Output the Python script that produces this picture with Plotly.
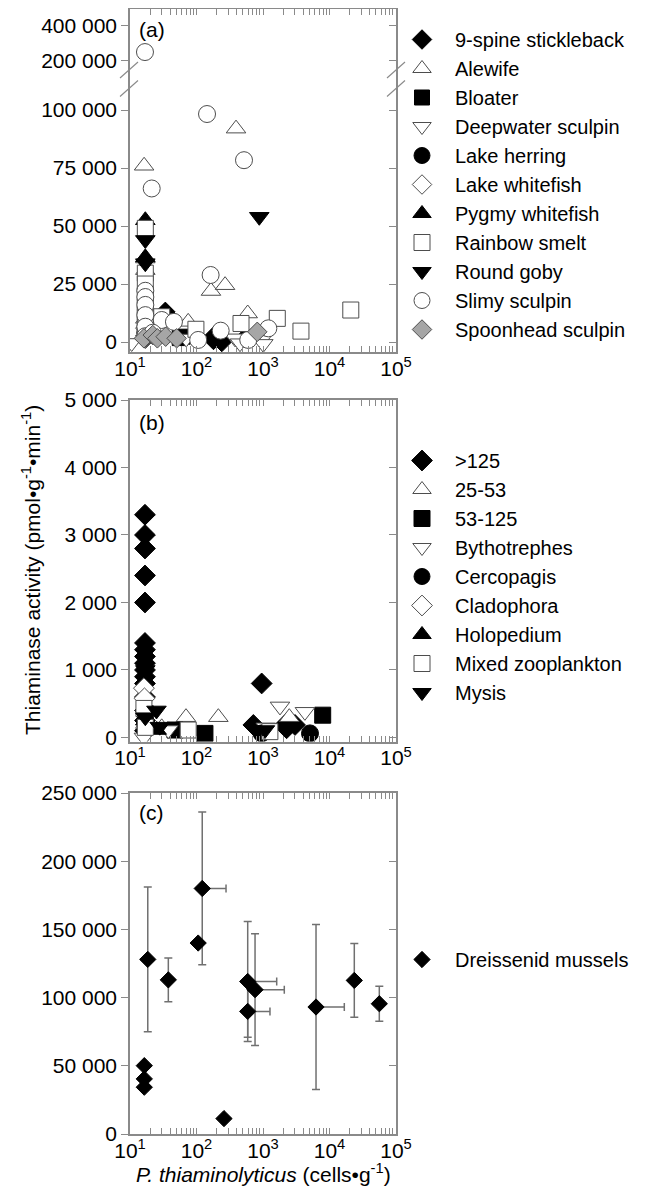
import plotly.graph_objects as go

# ---------------- DATA ----------------
# Panel (a): fish  (x = P. thiaminolyticus cells/g, y = thiaminase activity)
fish_names = ["9-spine stickleback", "Alewife", "Bloater", "Deepwater sculpin", "Lake herring",
              "Lake whitefish", "Pygmy whitefish", "Rainbow smelt", "Round goby", "Slimy sculpin",
              "Spoonhead sculpin"]
a_stickleback_x = [17, 34, 180, 190, 240, 560]
a_stickleback_y = [1500, 13000, 900, 3000, 0, 2300]
a_alewife_x = [16.3, 17, 17, 393, 165, 269, 589, 75, 17]
a_alewife_y = [76000, 36000, 31000, 92000, 22000, 24500, 12300, 8700, 10000]
a_bloater_x = [17, 56, 62]
a_bloater_y = [3000, 1700, 2300]
a_deepwater_x = [10.6, 17, 70, 380, 451, 955, 1010]
a_deepwater_y = [-400, 1000, 1500, 1600, -500, 900, -800]
a_herring_x = [17, 195]
a_herring_y = [4000, 1500]
a_whitefish_x = [17, 25]
a_whitefish_y = [6000, 2500]
a_pygmy_x = [17, 17]
a_pygmy_y = [52500, 36500]
a_smelt_x = [17, 17, 17, 17, 17, 17, 17, 17, 30, 98, 467, 1640, 3720, 20900]
a_smelt_y = [49000, 29700, 25000, 20000, 15000, 12000, 8000, 4000, 10900, 5500, 8000, 10200, 4700, 13800]
a_goby_x = [17, 17, 879]
a_goby_y = [44000, 34000, 54000]
a_slimy_x = [16.8, 21.2, 144, 518, 163, 17, 17, 17, 17, 17, 17, 30, 45.8, 106, 231, 600, 1203, 22]
a_slimy_y = [251000, 66200, 98300, 78400, 28900, 22100, 19400, 16000, 11600, 6600, 2500, 9500, 8700,
             900, 4900, 900, 5900, 4000]
a_spoonhead_x = [16.2, 22, 25.8, 34.4, 50.3, 820]
a_spoonhead_y = [1600, 3000, 1600, 2300, 1600, 4400]

# Panel (b): invertebrates / plankton size fractions
plankton_names = [">125", "25-53", "53-125", "Bythotrephes", "Cercopagis", "Cladophora",
                  "Holopedium", "Mixed zooplankton", "Mysis"]
b_gt125_x = [16.8] * 16 + [955, 716, 2140, 2265, 3030]
b_gt125_y = [3300, 3000, 2800, 2400, 2000, 1400, 1300, 1200, 1100, 1000, 900, 800, 600, 400, 250, 100,
             800, 185, 185, 136, 185]
b_25_53_x = [17, 30, 69.5, 213, 2485]
b_25_53_y = [200, 150, 300, 300, 300]
b_53_125_x = [17, 47.5, 134, 7900]
b_53_125_y = [350, 110, 60, 330]
b_bytho_x = [16.2, 37.7, 1100, 1800, 4270]
b_bytho_y = [0, 110, 150, 460, 380]
b_cerco_x = [17, 955, 5090]
b_cerco_y = [200, 60, 60]
b_clado_x = [16.2, 16.5]
b_clado_y = [730, 580]
b_holo_x = [17, 25.2]
b_holo_y = [250, 110]
b_mixed_x = [16.2, 17, 75, 1270]
b_mixed_y = [430, 150, 110, 86]
b_mysis_x = [17, 17, 25, 28, 1070]
b_mysis_y = [1000, 300, 400, 160, 110]

# Panel (c): Dreissenid mussels with error bars
c_name = "Dreissenid mussels"
c_x = [18.5, 37.7, 106, 122, 259, 589, 589, 759, 6270, 23600, 56100, 16.4, 16.4, 16.4]
c_y = [128000, 113000, 140000, 180000, 11300, 111800, 89900, 105800, 93100, 112600, 95500, 50100, 40400, 34300]
c_yerr = [53000, 16000, None, 56000, None, 44000, 19000, 41000, 60500, 27000, 12800, None, None, None]
c_xerr_plus = [None, None, None, 156, None, 1018, 684, 1331, 10430, None, None, None, None, None]

# Tick labels
x_tickvals = [10, 100, 1000, 10000, 100000]
x_ticktext = ["10<sup>1</sup>", "10<sup>2</sup>", "10<sup>3</sup>", "10<sup>4</sup>", "10<sup>5</sup>"]
a_low_tickvals = [0, 25000, 50000, 75000, 100000]
a_low_ticktext = ["0", "25 000", "50 000", "75 000", "100 000"]
a_up_tickvals = [200000, 400000]
a_up_ticktext = ["200 000", "400 000"]
b_tickvals = [0, 1000, 2000, 3000, 4000, 5000]
b_ticktext = ["0", "1 000", "2 000", "3 000", "4 000", "5 000"]
c_tickvals = [0, 50000, 100000, 150000, 200000, 250000]
c_ticktext = ["0", "50 000", "100 000", "150 000", "200 000", "250 000"]

# ---------------- STYLE ----------------
OFF = 8                      # page body margin
W, H = 653 - OFF, 1192 - OFF  # figure size so that it fits the window
FONT = "Liberation Sans, Arial, sans-serif"
FS = 21
LFS = 20
AXC = "#8a8a8a"
EDGE = "#4d4d4d"


def px_x(p):
    return (p - OFF) / W


def px_y(p):
    return 1 - (p - OFF) / H


def mk(symbol, fill, size, line=None):
    return dict(symbol=symbol, color=fill, size=size,
                line=dict(color=line if line else (fill if fill == "black" else EDGE), width=1))


fish_data = [(a_stickleback_x, a_stickleback_y), (a_alewife_x, a_alewife_y), (a_bloater_x, a_bloater_y),
             (a_deepwater_x, a_deepwater_y), (a_herring_x, a_herring_y), (a_whitefish_x, a_whitefish_y),
             (a_pygmy_x, a_pygmy_y), (a_smelt_x, a_smelt_y), (a_goby_x, a_goby_y), (a_slimy_x, a_slimy_y),
             (a_spoonhead_x, a_spoonhead_y)]
fish_styles = [mk("diamond", "black", 15), mk("triangle-up", "white", 17), mk("square", "black", 15),
               mk("triangle-down", "white", 17), mk("circle", "black", 17), mk("diamond", "white", 15),
               mk("triangle-up", "black", 17), mk("square", "white", 16), mk("triangle-down", "black", 17),
               mk("circle", "white", 17), mk("diamond", "#a6a6a6", 15, EDGE)]

plank_data = [(b_gt125_x, b_gt125_y), (b_25_53_x, b_25_53_y), (b_53_125_x, b_53_125_y),
              (b_bytho_x, b_bytho_y), (b_cerco_x, b_cerco_y), (b_clado_x, b_clado_y),
              (b_holo_x, b_holo_y), (b_mixed_x, b_mixed_y), (b_mysis_x, b_mysis_y)]
plank_styles = [mk("diamond", "black", 16), mk("triangle-up", "white", 17), mk("square", "black", 16),
                mk("triangle-down", "white", 17), mk("circle", "black", 17), mk("diamond", "white", 16),
                mk("triangle-up", "black", 17), mk("square", "white", 16), mk("triangle-down", "black", 17)]

BREAK = 150000

fig = go.Figure()

# Panel (a): lower and upper segments of the broken axis
for name, (xs, ys), st in zip(fish_names, fish_data, fish_styles):
    lo = [(x, y) for x, y in zip(xs, ys) if y < BREAK]
    hi = [(x, y) for x, y in zip(xs, ys) if y >= BREAK]
    fig.add_trace(go.Scatter(x=[p[0] for p in lo], y=[p[1] for p in lo], mode="markers", name=name,
                             marker=st, xaxis="x", yaxis="y", legend="legend", legendgroup=name))
    fig.add_trace(go.Scatter(x=[p[0] for p in hi], y=[p[1] for p in hi], mode="markers", name=name,
                             marker=st, xaxis="x2", yaxis="y2", legend="legend", legendgroup=name,
                             showlegend=False))

# Panel (b)
for name, (xs, ys), st in zip(plankton_names, plank_data, plank_styles):
    fig.add_trace(go.Scatter(x=xs, y=ys, mode="markers", name=name, marker=st,
                             xaxis="x3", yaxis="y3", legend="legend2"))

# Panel (c)
fig.add_trace(go.Scatter(
    x=c_x, y=c_y, mode="markers", name=c_name, marker=mk("diamond", "black", 12.5),
    error_y=dict(type="data", array=c_yerr, symmetric=True, color="#707070", thickness=1.5, width=4),
    error_x=dict(type="data", array=c_xerr_plus, arrayminus=[0 if v is not None else None for v in c_xerr_plus],
                 symmetric=False, color="#707070", thickness=1.5, width=4),
    xaxis="x4", yaxis="y4", legend="legend3"))

# empty helper traces so right-side tick axes are drawn
for ya, xa in [("y5", "x"), ("y6", "x2"), ("y7", "x3"), ("y8", "x4")]:
    fig.add_trace(go.Scatter(x=[], y=[], xaxis=xa, yaxis=ya, showlegend=False, hoverinfo="skip"))

XD = [px_x(130), px_x(396)]
dom_a_up = [px_y(79), px_y(9)]
dom_a_lo = [px_y(352), px_y(79)]
dom_b = [px_y(741.5), px_y(400)]
dom_c = [px_y(1134), px_y(793)]
rng_a_lo = [-4300, 113400]
rng_a_up = [97000, 497000]
rng_b = [-60, 5000]
rng_c = [0, 250000]

minor_vals = [k * 10 ** n for n in range(1, 5) for k in range(2, 10)]


def xax(anchor, labels, side="bottom", mirror=False):
    return dict(type="log", range=[1, 5], domain=XD, anchor=anchor, side=side, automargin=False,
                showline=True, linecolor=AXC, linewidth=1.5, mirror=mirror,
                ticks="inside", ticklen=6, tickcolor=AXC, tickwidth=1,
                tickmode="array", tickvals=x_tickvals, ticktext=x_ticktext,
                showticklabels=labels, tickfont=dict(size=FS, color="black"), ticklabelstandoff=-3,
                minor=dict(tickmode="array", tickvals=minor_vals, ticks="inside", ticklen=6,
                           tickcolor=AXC, tickwidth=1, showgrid=False),
                showgrid=False, zeroline=False)


def yax(dom, rng, tv, tt, anchor):
    return dict(domain=dom, range=rng, anchor=anchor, showline=True, linecolor=AXC, linewidth=1.5,
                mirror=True, ticks="outside", ticklen=7, tickcolor=AXC, tickwidth=1, automargin=False,
                tickmode="array", tickvals=tv, ticktext=tt, tickfont=dict(size=FS, color="black"),
                showgrid=False, zeroline=False)


def yright(over, rng, tv, anchor):
    return dict(overlaying=over, side="right", anchor=anchor, range=rng, showline=False, automargin=False,
                ticks="inside", ticklen=7, tickcolor=AXC, tickwidth=1, tickmode="array", tickvals=tv,
                showticklabels=False, showgrid=False, zeroline=False)


legend_common = dict(xanchor="left", yanchor="top", font=dict(size=LFS, family=FONT, color="black"),
                     itemwidth=56, bgcolor="rgba(0,0,0,0)", tracegroupgap=0, borderwidth=0)

fig.update_layout(
    template="none",
    width=W, height=H, margin=dict(l=0, r=0, t=0, b=0, pad=0, autoexpand=False),
    paper_bgcolor="white", plot_bgcolor="white",
    font=dict(family=FONT, size=FS, color="black"),
    xaxis=xax("y", True),
    xaxis2=dict(xax("y2", False, side="top"), matches="x"),
    xaxis3=xax("y3", True, mirror="allticks"),
    xaxis4=xax("y4", True, mirror="allticks"),
    yaxis=yax(dom_a_lo, rng_a_lo, a_low_tickvals, a_low_ticktext, "x"),
    yaxis2=yax(dom_a_up, rng_a_up, a_up_tickvals, a_up_ticktext, "x2"),
    yaxis3=yax(dom_b, rng_b, b_tickvals, b_ticktext, "x3"),
    yaxis4=yax(dom_c, rng_c, c_tickvals, c_ticktext, "x4"),
    yaxis5=yright("y", rng_a_lo, a_low_tickvals, "x"),
    yaxis6=yright("y2", rng_a_up, a_up_tickvals, "x2"),
    yaxis7=yright("y3", rng_b, b_tickvals, "x3"),
    yaxis8=yright("y4", rng_c, c_tickvals, "x4"),
    legend=dict(legend_common, x=px_x(389), y=px_y(20)),
    legend2=dict(legend_common, x=px_x(389), y=px_y(441)),
    legend3=dict(legend_common, x=px_x(389), y=px_y(940)),
    showlegend=True,
)

# y-axis break marks (//) on both sides of panel (a)
for xc in (129, 396):
    for yc in (70, 88.5):
        fig.add_shape(type="line", xref="paper", yref="paper",
                      x0=px_x(xc - 9), y0=px_y(yc + 8), x1=px_x(xc + 9), y1=px_y(yc - 8),
                      line=dict(color=AXC, width=1.2))

# panel labels
for lab, yc in (("(a)", 30), ("(b)", 422), ("(c)", 812)):
    fig.add_annotation(text=lab, xref="paper", yref="paper", x=px_x(137), y=px_y(yc),
                       xanchor="left", yanchor="middle", showarrow=False, font=dict(size=FS, color="black"))

# axis titles
fig.add_annotation(text="Thiaminase activity (pmol•g<sup>-1</sup>•min<sup>-1</sup>)", xref="paper", yref="paper",
                   x=px_x(31), y=px_y(570), textangle=-90, xanchor="center", yanchor="middle",
                   showarrow=False, font=dict(size=FS, color="black"))
fig.add_annotation(text="<i>P. thiaminolyticus</i> (cells•g<sup>-1</sup>)", xref="paper", yref="paper",
                   x=px_x(263), y=px_y(1173), xanchor="center", yanchor="middle",
                   showarrow=False, font=dict(size=FS, color="black"))

fig.write_html("out.html")
